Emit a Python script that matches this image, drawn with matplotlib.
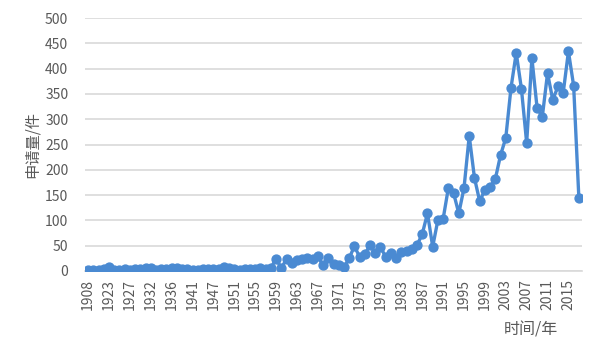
import matplotlib
matplotlib.use("Agg")
import matplotlib.pyplot as plt
from matplotlib.ticker import MultipleLocator

plt.rcParams['font.family'] = ['Noto Sans CJK SC', 'DejaVu Sans']

years = [1908, 1912, 1915, 1921, 1923, 1924, 1925, 1926, 1927, 1928, 1929, 1931,
         1932, 1933, 1934, 1935, 1936, 1937, 1938, 1939, 1941, 1942, 1943, 1946,
         1947, 1948, 1949, 1950, 1951, 1952, 1953, 1954, 1955, 1956, 1957, 1958,
         1959, 1960, 1961, 1962, 1963, 1964, 1965, 1966, 1967, 1968,
         1969, 1970, 1971, 1972, 1973, 1974, 1975, 1976, 1977, 1978,
         1979, 1980, 1981, 1982, 1983, 1984, 1985, 1986, 1987, 1988,
         1989, 1990, 1991, 1992, 1993, 1994, 1995, 1996, 1997, 1998,
         1999, 2000, 2001, 2002, 2003, 2004, 2005, 2006, 2007, 2008,
         2009, 2010, 2011, 2012, 2013, 2014, 2015, 2016, 2017]

counts = [2, 2, 1, 3, 8, 2, 2, 3, 2, 4, 3, 5,
          5, 2, 3, 4, 5, 5, 4, 3, 2, 2, 3, 4,
          4, 3, 8, 5, 3, 2, 3, 4, 3, 5, 4, 6,
          24, 6, 23, 16, 22, 24, 25, 24, 29, 11,
          25, 14, 11, 7, 25, 49, 28, 33, 51, 36,
          47, 28, 35, 26, 37, 40, 44, 51, 73, 114,
          48, 101, 103, 164, 154, 114, 164, 267, 184, 138,
          160, 166, 182, 229, 263, 362, 431, 360, 253, 421,
          322, 305, 391, 338, 365, 352, 434, 366, 144]

y_label = "申请量/件"
x_label = "时间/年"

fig = plt.figure(figsize=(6, 3.6), dpi=100)
ax = fig.add_axes([85/600, 89/360, 497/600, 253/360])

pos = list(range(len(years)))
ax.plot(pos, counts, color='#4a8ad2', lw=2.4, marker='o', ms=6.4,
        markerfacecolor='#4a8ad2', markeredgecolor='#4a8ad2', zorder=3)

ax.set_ylim(0, 500)
ax.set_xlim(-0.6, len(years) - 0.4)
ax.yaxis.set_major_locator(MultipleLocator(50))
ax.grid(axis='y', color='#d9d9d9', lw=1.2)
ax.set_axisbelow(True)

tick_pos = pos[::4]
ax.set_xticks(tick_pos)
ax.set_xticklabels([str(years[i]) for i in tick_pos], rotation=90)

for s in ['top', 'right', 'left']:
    ax.spines[s].set_visible(False)
ax.spines['bottom'].set_color('#d9d9d9')
ax.spines['bottom'].set_linewidth(1.2)

ax.tick_params(axis='both', length=0, labelsize=10, labelcolor='#595959')
ax.tick_params(axis='y', pad=12)
ax.tick_params(axis='x', pad=6)

fig.text(32/600, 1 - 145/360, y_label, rotation=90, ha='center', va='center',
         fontsize=11, color='#595959')
fig.text(531/600, 1 - 330/360, x_label, ha='center', va='center',
         fontsize=11.5, color='#595959')

fig.savefig('out.png', dpi=100, facecolor='white')
